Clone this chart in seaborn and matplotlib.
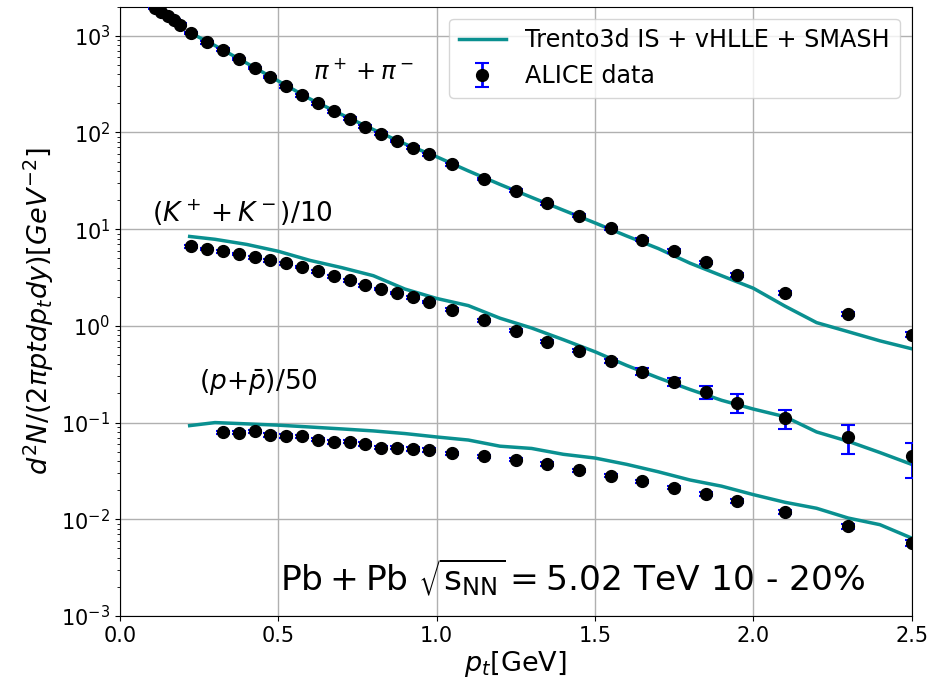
import numpy as np
import pandas as pd
import matplotlib
matplotlib.use("Agg")
import matplotlib.pyplot as plt
import seaborn as sns

# ---------------- data ----------------
pion_pt = [0.11, 0.13, 0.15, 0.17, 0.19, 0.225, 0.275, 0.325, 0.375, 0.425, 0.475,
           0.525, 0.575, 0.625, 0.675, 0.725, 0.775, 0.825, 0.875, 0.925, 0.975,
           1.05, 1.15, 1.25, 1.35, 1.45, 1.55, 1.65, 1.75, 1.85, 1.95, 2.1, 2.3, 2.5]
pion_y = [1930, 1750, 1590, 1450, 1300, 1066, 853, 717, 574, 463, 374,
          299, 242, 200, 166, 139, 115, 97, 81.5, 69.5, 59.3,
          46.7, 33.0, 24.9, 18.6, 13.8, 10.2, 7.76, 5.94, 4.53, 3.38, 2.18, 1.32, 0.81]
pion_err = [60, 55, 50, 45, 40, 35, 28, 23, 18, 15, 12,
            10, 8, 6.5, 5.5, 4.5, 3.8, 3.2, 2.7, 2.3, 2.0,
            1.6, 1.1, 0.85, 0.65, 0.5, 0.38, 0.3, 0.24, 0.19, 0.15, 0.1, 0.07, 0.05]

kaon_pt = [0.225, 0.275, 0.325, 0.375, 0.425, 0.475, 0.525, 0.575, 0.625, 0.675,
           0.725, 0.775, 0.825, 0.875, 0.925, 0.975,
           1.05, 1.15, 1.25, 1.35, 1.45, 1.55, 1.65, 1.75, 1.85, 1.95, 2.1, 2.3, 2.5]
kaon_y = [6.62, 6.22, 5.88, 5.53, 5.10, 4.74, 4.42, 4.05, 3.65, 3.24,
          2.95, 2.62, 2.40, 2.18, 1.97, 1.77,
          1.47, 1.14, 0.89, 0.685, 0.553, 0.43, 0.337, 0.264, 0.207, 0.161, 0.111, 0.0709, 0.0446]
kaon_err = [0.2, 0.19, 0.18, 0.17, 0.15, 0.14, 0.13, 0.12, 0.11, 0.1,
            0.09, 0.08, 0.07, 0.065, 0.06, 0.055,
            0.045, 0.035, 0.03, 0.025, 0.022, 0.02, 0.03, 0.027, 0.03, 0.035, 0.025, 0.024, 0.0176]

proton_pt = [0.325, 0.375, 0.425, 0.475, 0.525, 0.575, 0.625, 0.675, 0.725, 0.775,
             0.825, 0.875, 0.925, 0.975,
             1.05, 1.15, 1.25, 1.35, 1.45, 1.55, 1.65, 1.75, 1.85, 1.95, 2.1, 2.3, 2.5]
proton_y = [0.0798, 0.0785, 0.081, 0.0743, 0.0725, 0.072, 0.0664, 0.0628, 0.0633, 0.060,
            0.0552, 0.0552, 0.0535, 0.0523,
            0.0483, 0.0446, 0.0412, 0.0372, 0.032, 0.0282, 0.0246, 0.0213, 0.0184, 0.0155,
            0.0119, 0.00844, 0.00568]
proton_err = [0.003, 0.003, 0.003, 0.003, 0.0028, 0.0028, 0.0026, 0.0025, 0.0025, 0.0024,
              0.0022, 0.0022, 0.0021, 0.0021,
              0.0019, 0.0018, 0.0016, 0.0015, 0.0013, 0.0011, 0.001, 0.0009, 0.0008, 0.0007,
              0.0006, 0.0005, 0.0004]

model_pt = [0.22, 0.3, 0.4, 0.5, 0.6, 0.7, 0.8, 0.9, 1.0, 1.1, 1.2, 1.3, 1.4, 1.5,
            1.6, 1.7, 1.8, 1.9, 2.0, 2.1, 2.2, 2.3, 2.4, 2.5]
model_pion = [1080, 790, 520, 340, 222, 153, 107, 76, 56, 40, 29, 21.3, 15.7, 11.6,
              8.5, 6.3, 4.45, 3.3, 2.45, 1.6, 1.08, 0.87, 0.70, 0.58]
model_kaon = [8.4, 7.85, 6.95, 5.9, 4.75, 4.0, 3.3, 2.4, 1.92, 1.62, 1.2, 0.95, 0.72, 0.54,
              0.39, 0.29, 0.22, 0.17, 0.138, 0.115, 0.08, 0.064, 0.049, 0.037]
model_proton = [0.093, 0.1, 0.097, 0.094, 0.09, 0.086, 0.082, 0.077, 0.071, 0.066, 0.057,
                0.054, 0.047, 0.043, 0.037, 0.031, 0.0255, 0.022, 0.018, 0.015, 0.013,
                0.0103, 0.0088, 0.0064]

# ---------------- plot ----------------
fig = plt.figure(figsize=(9.34, 6.91), dpi=100)
ax = fig.add_axes([0.1285, 0.1085, 0.8475, 0.882])

line_color = "#0a9090"
for i, my in enumerate([model_pion, model_kaon, model_proton]):
    df = pd.DataFrame({"pt": model_pt, "y": my})
    sns.lineplot(data=df, x="pt", y="y", ax=ax, color=line_color, lw=2.5,
                 label="Trento3d IS + vHLLE + SMASH" if i == 0 else None,
                 legend=False, zorder=2)

for i, (px, py, pe) in enumerate([(pion_pt, pion_y, pion_err),
                                  (kaon_pt, kaon_y, kaon_err),
                                  (proton_pt, proton_y, proton_err)]):
    ax.errorbar(px, py, yerr=pe, fmt="o", color="black", ms=8.5, ecolor="blue",
                elinewidth=2, capsize=5, capthick=1.5, zorder=3,
                label="ALICE data" if i == 0 else None)

ax.set_yscale("log")
ax.set_xlim(0, 2.5)
ax.set_ylim(1e-3, 2e3)
ax.grid(True, which="major", color="#b0b0b0", lw=1)
ax.tick_params(labelsize=15)

ax.set_xlabel(r"$p_t$[GeV]", fontsize=19.5, labelpad=2)
ax.set_ylabel(r"$d^2N/(2\pi pt dp_t dy) [GeV^{-2}]$", fontsize=19.5)

ax.text(0.61, 430, r"$\pi^+ + \pi^-$", fontsize=17.5, va="center")
ax.text(0.10, 14.8, r"$(K^+ + K^-)/10$", fontsize=19, va="center")
ax.text(0.25, 0.26, r"$(p{+}\bar{p})/50$", fontsize=19, va="center")
ax.text(0.505, 0.0025, r"$\mathrm{Pb+Pb}\ \sqrt{\mathrm{s}_{\mathrm{NN}}} = 5.02$ TeV 10 - 20%",
        fontsize=24.8, va="center")

ax.legend(loc="upper right", fontsize=17.2)

fig.savefig("out.png", dpi=100)
